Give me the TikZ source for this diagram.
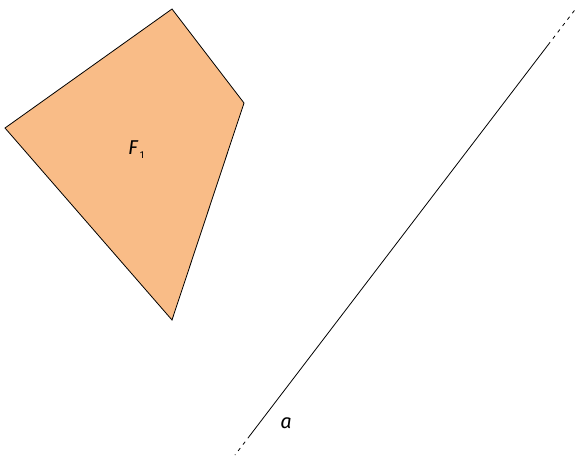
\documentclass[tikz,border=0pt]{standalone}
\usepackage{fontspec}
\setsansfont{Fira Sans}
\definecolor{facefill}{HTML}{F9BC87}
\begin{document}
\begin{tikzpicture}[x=1pt,y=-1pt,
  face/.style={draw=black,fill=facefill,line width=0.8pt,line join=miter},
  lbl/.style={font=\sffamily\itshape\fontsize{20}{20}\selectfont,inner sep=0pt},
  ln/.style={line width=0.8pt}]
\useasboundingbox (0,0) rectangle (576,458);
\coordinate (p1) at (172,9);
\coordinate (p2) at (244,103);
\coordinate (p3) at (172,320);
\coordinate (p4) at (5,128);
\draw[face] (p1) -- (p2) -- (p3) -- (p4) -- cycle;
\node[lbl,anchor=base west] (F) at (128,154) {F};
\node[font=\sffamily\fontsize{10}{10}\selectfont,inner sep=0pt,anchor=base west] (F1) at (F.base east) [xshift=1.5pt,yshift=-4pt] {1};
\coordinate (a0) at (235,455);
\coordinate (a1) at (250,435.4);
\coordinate (a2) at (548,45);
\coordinate (a3) at (575,9.7);
\draw[ln] (a1) -- (a2);
\draw[ln,dash pattern=on 3.5pt off 4.5pt] (a1) -- (a0);
\draw[ln,dash pattern=on 3.5pt off 4.5pt] (a2) -- (a3);
\node[lbl] (A) at (286,423) {a};
\end{tikzpicture}
\end{document}
